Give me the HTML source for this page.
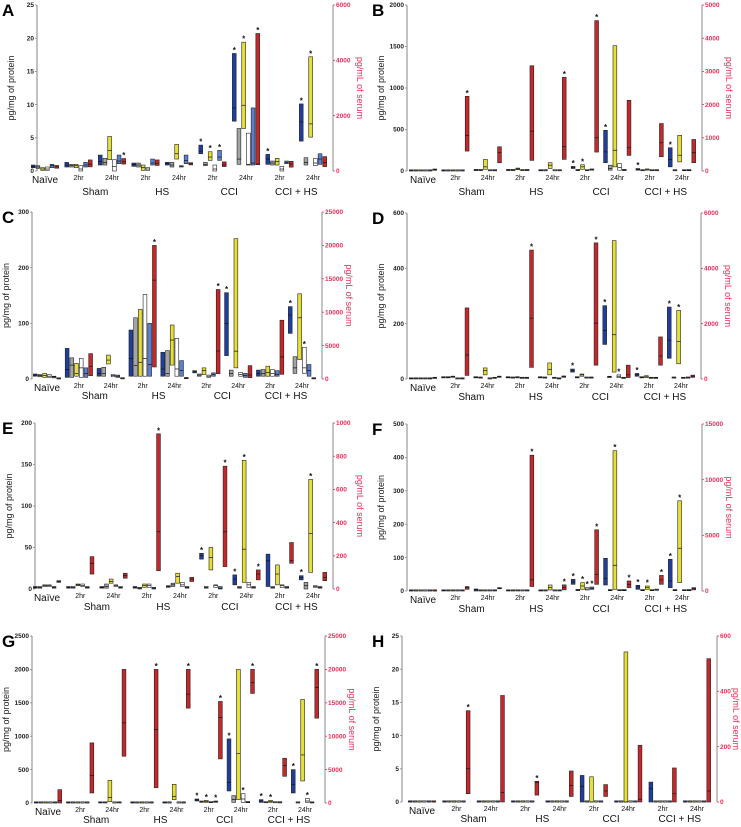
<!DOCTYPE html>
<html><head><meta charset="utf-8">
<style>
html,body{margin:0;padding:0;background:#fff;}
svg{display:block;font-family:"Liberation Sans",sans-serif;}
</style></head>
<body>
<svg id="fig" width="741" height="827" viewBox="0 0 741 827" xmlns="http://www.w3.org/2000/svg"></svg>
<script>
// series order: dark-blue, grey, yellow, white, light-blue, red(serum, right axis)
const groups=["Naïve","2hr","24hr","2hr","24hr","2hr","24hr","2hr","24hr"];
const groupNames=["Sham","HS","CCI","CCI + HS"];
const seriesColors=["#1f3f9e","#a4a4a4","#e6df35","#ffffff","#5b7fd3","#c4282b"];

const A_lo=[[0.5,0.4,0.1,0.1,0.5,100],[0.6,0.6,0.5,0,0.6,150],[0.9,0.9,1.7,0,1.1,250],[0.7,0.6,0.1,0.1,0.9,200],[0.9,0.6,1.8,0.6,1.1,220],[2.6,0.8,1.6,0,1.6,160],[7.5,1.0,6.4,0.9,0.9,230],[1.0,0.9,0.9,0,1.1,140],[4.5,0.9,5.1,0.8,1.0,160]];
const A_med=[[0.7,0.6,0.3,0.3,0.8,150],[0.9,0.8,0.8,0.3,0.9,250],[1.4,1.3,3.1,0.7,1.5,330],[1.0,0.9,0.5,0.3,1.2,280],[1.1,0.9,2.6,0.7,1.6,260],[3.0,1.0,2.1,0.3,2.1,220],[9.5,1.8,9.9,1.0,1.2,250],[1.8,1.2,1.4,0.3,1.3,250],[7.4,1.3,7.1,1.2,1.8,300]];
const A_hi=[[0.9,0.8,0.5,0.6,1.0,200],[1.3,1.0,1.0,0.8,1.3,400],[2.4,1.9,5.2,1.7,2.4,450],[1.2,1.2,0.9,0.5,1.8,400],[1.3,1.3,4.0,0.8,2.4,300],[3.9,1.3,2.9,0.9,3.1,330],[17.7,6.4,19.4,5.7,9.5,4970],[2.5,1.5,1.9,0.7,1.5,350],[10.1,2.0,17.2,1.9,2.6,520]];
const A_star=[[2,5],[5,0],[5,2],[5,4],[6,0],[6,2],[6,5],[7,0],[8,0],[8,2]];

const B_lo=[[0,0,0,0,0,20],[0,0,0,0,0,600],[5,5,20,2,2,250],[5,5,15,5,5,320],[2,2,30,2,2,350],[30,5,20,5,10,570],[100,10,50,10,5,470],[10,3,10,3,3,430],[50,2,110,3,3,250]];
const B_med=[[3,3,3,3,3,40],[3,3,3,3,3,1070],[10,10,50,5,5,550],[12,12,25,10,10,1200],[4,4,70,4,4,730],[40,10,50,8,15,1000],[230,30,250,40,10,700],[20,6,15,6,5,850],[140,5,190,8,8,550]];
const B_hi=[[8,8,8,8,8,60],[8,8,8,8,8,2250],[15,15,140,10,8,730],[18,18,35,18,18,3170],[6,6,100,6,6,2820],[55,15,75,12,25,4530],[490,70,1510,90,20,2130],[30,10,25,10,8,1430],[280,8,430,15,15,950]];
const B_star=[[1,5],[4,5],[5,0],[5,2],[5,5],[6,0],[7,0],[8,0]];

const C_lo=[[5,4,3,3,2,0],[3,3,5,3,3,500],[5,5,27,4,3,20],[5,5,5,5,5,1800],[5,5,25,5,5,50],[11,5,8,3,5,800],[42,5,20,5,3,200],[5,5,5,5,5,700],[82,10,35,10,5,20]];
const C_med=[[7,6,6,5,4,50],[17,25,10,20,10,1900],[10,10,34,6,5,50],[37,24,30,37,26,14800],[18,10,70,18,15,100],[13,7,15,5,8,4200],[100,10,50,8,6,600],[10,10,12,10,8,3300],[115,20,110,20,15,50]];
const C_hi=[[9,8,10,8,5,100],[55,38,28,37,20,3800],[19,21,43,8,7,100],[88,110,125,152,100,20000],[48,51,97,73,33,200],[15,9,20,7,11,13400],[155,16,252,12,10,2000],[16,17,23,17,15,8800],[130,40,153,57,26,100]];
const C_star=[[3,5],[5,5],[6,0],[8,0],[8,3]];

const D_lo=[[0,0,0,0,0,20],[4,4,6,0,0,130],[4,3,15,0,2,60],[4,3,4,2,2,420],[4,3,15,2,0,60],[25,4,10,3,3,500],[125,5,25,5,2,50],[10,4,5,2,2,500],[75,3,55,2,3,60]];
const D_med=[[2,2,2,2,2,40],[6,6,8,2,2,870],[6,5,30,2,4,80],[6,5,6,4,4,2200],[6,5,35,4,2,90],[30,6,15,5,5,2020],[175,8,160,10,4,150],[15,6,8,4,4,830],[140,5,135,4,5,100]];
const D_hi=[[4,4,4,4,4,60],[8,8,10,4,4,2570],[8,7,40,4,6,100],[8,7,8,6,6,4660],[8,7,58,6,4,110],[36,8,18,7,7,4920],[265,10,500,15,6,500],[20,8,12,6,6,1520],[260,7,248,6,7,140]];
const D_star=[[3,5],[5,0],[5,5],[6,0],[6,3],[7,0],[8,0],[8,2]];

const E_lo=[[1,1,3,3,1,40],[1,1,4,3,1,90],[1,1,7,3,1,65],[1,0,2,2,0,110],[2,3,7,3,1,45],[36,1,23,2,0,135],[5,1,8,2,1,55],[3,1,5,2,1,155],[11,0,20,2,1,50]];
const E_med=[[2,2,4,4,2,45],[2,2,5,4,2,155],[2,3,9,4,2,80],[2,1,4,4,1,345],[3,5,15,5,2,60],[40,2,38,4,1,345],[12,2,48,5,2,90],[34,2,18,4,2,170],[14,4,67,3,2,70]];
const E_hi=[[3,3,5,5,3,50],[3,3,6,6,3,195],[3,6,12,5,3,95],[3,2,6,6,2,935],[4,7,19,8,3,70],[43,3,50,5,3,740],[17,3,155,8,3,115],[42,3,29,5,3,280],[16,8,132,4,3,100]];
const E_star=[[3,5],[5,0],[5,5],[6,0],[6,2],[6,5],[8,0],[8,2]];

const F_lo=[[0,0,0,0,0,0],[0,0,0,0,0,150],[0,0,0,0,0,200],[0,0,0,0,0,400],[0,0,3,0,0,100],[20,1,5,3,5,600],[18,1,5,1,1,300],[5,1,5,1,2,600],[10,1,25,1,1,100]];
const F_med=[[0.5,0.5,0.5,0.5,0.5,10],[1,1,1,1,1,300],[4,1,1,1,1,250],[1,1,1,1,1,1000],[1,1,10,1,1,300],[27,3,15,6,8,1500],[38,2,77,2,2,600],[12,2,10,2,3,1000],[30,2,128,2,2,200]];
const F_hi=[[1,1,1,1,1,20],[2,2,2,2,2,400],[6,2,2,2,2,300],[2,2,2,2,2,12200],[2,2,18,2,2,550],[35,5,25,10,12,5500],[98,3,420,3,3,900],[17,3,15,3,5,1400],[95,3,270,3,3,300]];
const F_star=[[3,5],[4,5],[5,0],[5,2],[5,3],[5,4],[5,5],[6,2],[6,5],[7,0],[7,2],[7,5],[8,0],[8,2]];

const G_lo=[[0,0,0,0,0,0],[0,0,0,0,0,1500],[0,0,20,0,0,7000],[0,0,0,0,0,2300],[0,0,50,0,0,14200],[30,10,10,5,10,6600],[180,10,50,10,5,16400],[10,3,10,3,2,4000],[150,0,330,10,0,12700]];
const G_med=[[2,2,2,2,2,400],[2,2,2,2,2,4100],[5,5,80,3,5,12000],[2,2,2,2,2,11000],[2,2,100,2,2,16300],[45,20,25,10,20,12800],[310,50,740,60,10,18000],[30,6,20,6,4,5600],[280,5,720,30,5,17300]];
const G_hi=[[5,5,5,5,5,2000],[5,5,5,5,5,9000],[15,15,340,6,12,20000],[5,5,5,5,5,20000],[5,5,280,5,5,20000],[60,30,40,15,30,15200],[960,110,2000,140,20,20000],[50,10,40,10,6,6700],[500,12,1550,70,10,20000]];
const G_star=[[3,5],[4,5],[5,0],[5,2],[5,4],[5,5],[6,0],[6,3],[6,5],[7,0],[7,2],[8,0],[8,3],[8,5]];

const H_lo=[[0,0,0,0,0,0],[0,0,0,0,0,30],[0,0,0,0,0,0],[0,0,0,0,0,25],[0,0,0,0,0,20],[0,0,0,0,0,20],[0,0,0,0,0,0],[0,0,0,0,0,0],[0,0,0,0,0,0]];
const H_med=[[0,0,0,0,0,0],[0,0,0,0,0,120],[0,0,0,0,0,35],[0,0,0,0,0,70],[0,0,0,0,0,60],[2.3,0,0,0,0,40],[0,0,0,0,0,10],[2,0,0,0,0,30],[0,0,0,0,0,40]];
const H_hi=[[0.1,0.1,0.1,0.1,0.1,2],[0.1,0.1,0.1,0.1,0.1,330],[0.1,0.1,0.1,0.1,0.1,385],[0.1,0.1,0.1,0.1,0.1,75],[0.1,0.1,0.1,0.1,0.1,112],[4.0,0.1,3.8,0.1,0.1,63],[0.1,0.1,22.6,0.1,0.1,205],[3.0,0.1,0.1,0.1,0.1,123],[0.1,0.1,0.1,0.1,0.1,518]];
const H_star=[[1,5],[3,5]];

const A_ticksL=[0,5,10,15,20,25], A_ticksR=[0,2000,4000,6000];
const B_ticksL=[0,500,1000,1500,2000], B_ticksR=[0,1000,2000,3000,4000,5000];
const C_ticksL=[0,100,200,300], C_ticksR=[0,5000,10000,15000,20000,25000];
const D_ticksL=[0,200,400,600], D_ticksR=[0,2000,4000,6000];
const E_ticksL=[0,50,100,150,200], E_ticksR=[0,200,400,600,800,1000];
const F_ticksL=[0,100,200,300,400,500], F_ticksR=[0,5000,10000,15000];
const G_ticksL=[0,500,1000,1500,2000,2500], G_ticksR=[0,5000,10000,15000,20000,25000];
const H_ticksL=[0,5,10,15,20,25], H_ticksR=[0,200,400,600];

const panels=[
 {id:"A",lo:A_lo,med:A_med,hi:A_hi,star:A_star,tl:A_ticksL,tr:A_ticksR,L:37,R:333,y0:171,yt:5,c0:45,px:2,gy:24,rto:24},
 {id:"B",lo:B_lo,med:B_med,hi:B_hi,star:B_star,tl:B_ticksL,tr:B_ticksR,L:407,R:702,y0:171,yt:5,c0:423,px:372,gy:24,rto:24},
 {id:"C",lo:C_lo,med:C_med,hi:C_hi,star:C_star,tl:C_ticksL,tr:C_ticksR,L:32,R:322,y0:379,yt:212,c0:47,px:2,gy:20,rto:24},
 {id:"D",lo:D_lo,med:D_med,hi:D_hi,star:D_star,tl:D_ticksL,tr:D_ticksR,L:407,R:701,y0:379,yt:213,c0:423,px:372,gy:21,rto:24},
 {id:"E",lo:E_lo,med:E_med,hi:E_hi,star:E_star,tl:E_ticksL,tr:E_ticksR,L:35,R:333,y0:589,yt:423,c0:47,px:2,gy:21,rto:24},
 {id:"F",lo:F_lo,med:F_med,hi:F_hi,star:F_star,tl:F_ticksL,tr:F_ticksR,L:407,R:702,y0:591,yt:424,c0:423,px:372,gy:21,rto:24},
 {id:"G",lo:G_lo,med:G_med,hi:G_hi,star:G_star,tl:G_ticksL,tr:G_ticksR,L:32,R:325,y0:803,yt:636,c0:48,px:2,gy:20,rto:24},
 {id:"H",lo:H_lo,med:H_med,hi:H_hi,star:H_star,tl:H_ticksL,tr:H_ticksR,L:402,R:717,y0:802,yt:636,c0:422,px:372,gy:20,rto:16}
];

const NS="http://www.w3.org/2000/svg";
const svg=document.getElementById("fig");
function mk(tag,attrs,parent,text){
  const e=document.createElementNS(NS,tag);
  for(const k in attrs)e.setAttribute(k,attrs[k]);
  if(text!==undefined)e.textContent=text;
  parent.appendChild(e);return e;
}
function fmt(v){return String(v);}

panels.forEach(p=>{
  const g=mk("g",{},svg);
  
  
  const maxL=p.tl[p.tl.length-1], maxR=p.tr[p.tr.length-1];
  const yL=v=>p.y0-(v/maxL)*(p.y0-p.yt);
  const yR=v=>p.y0-(v/maxR)*(p.y0-p.yt);
  const w=(p.R-p.c0-20)/8;
  const cx=i=>p.c0+i*w;
  const let_=mk("text",{x:p.px,y:p.yt+11,"font-size":17,"font-weight":"bold",fill:"#000"},g,p.id);
  
  
  const al=mk("line",{x1:p.L,y1:p.yt,x2:p.L,y2:p.y0,stroke:"#9a9a9a","stroke-width":1.2},g);
  
  
  const ar=mk("line",{x1:p.R,y1:p.yt,x2:p.R,y2:p.y0,stroke:"#b0b0b0","stroke-width":1.5},g);
  
  
  p.tl.forEach(t=>{
    const y=yL(t);
    mk("line",{x1:p.L-2,y1:y,x2:p.L,y2:y,stroke:"#888","stroke-width":0.8},g);
    const tx=mk("text",{x:p.L-3,y:y+2.2,"font-size":6.5,"font-weight":"bold","text-anchor":"end",fill:"#222"},g,fmt(t));
    
    
  });
  p.tr.forEach(t=>{
    const y=yR(t);
    mk("line",{x1:p.R,y1:y,x2:p.R+2,y2:y,stroke:"#e8305a","stroke-width":0.8},g);
    const tx=mk("text",{x:p.R+3,y:y+2.2,"font-size":6.5,"font-weight":"bold",fill:"#e8305a"},g,fmt(t));
    
    
  });
  const ym=(p.y0+p.yt)/2;
  const lt=mk("text",{x:0,y:0,"font-size":9,fill:"#222","text-anchor":"middle",transform:`translate(${p.L-23},${ym}) rotate(-90)`},g,"pg/mg of protein");
  
  
  const rt=mk("text",{x:0,y:0,"font-size":9,fill:"#e8305a","text-anchor":"middle",transform:`translate(${p.R+p.rto},${ym}) rotate(90)`},g,"pg/mL of serum");
  
  
  groups.forEach((lab,i)=>{
    const naive=i===0;
    const tx=mk("text",{x:cx(i),y:p.y0+(naive?12:9),"font-size":naive?10:7,"text-anchor":"middle",fill:"#111"},g,lab);
    
    
  });
  groupNames.forEach((n,k)=>{
    const tx=mk("text",{x:(cx(1+2*k)+cx(2+2*k))/2,y:p.y0+p.gy,"font-size":10,"text-anchor":"middle",fill:"#111"},g,n);
    
    
  });
  const pitch=4.7,bw=3.8;
  for(let i=0;i<9;i++){
    for(let s=0;s<6;s++){
      const sc=s===5?yR:yL;
      const x=cx(i)+(s-2.5)*pitch-bw/2;
      const yh=sc(p.hi[i][s]), yl=sc(p.lo[i][s]);
      const h=Math.max(yl-yh,1.2);
      const r=mk("rect",{x:x,y:yl-h,width:bw,height:h,fill:seriesColors[s],stroke:"#222","stroke-width":0.6},g);
      
      
      const ymd=sc(p.med[i][s]);
      mk("line",{x1:x,y1:ymd,x2:x+bw,y2:ymd,stroke:"#111","stroke-width":0.7},g);
    }
  }
  p.star.forEach(([i,s])=>{
    const sc=s===5?yR:yL;
    const x=cx(i)+(s-2.5)*pitch;
    const st=mk("text",{x:x,y:sc(p.hi[i][s])-0.5,"font-size":8,"font-weight":"bold","text-anchor":"middle",fill:"#111"},g,"*");
    
    
  });
});
</script>
</body></html>
